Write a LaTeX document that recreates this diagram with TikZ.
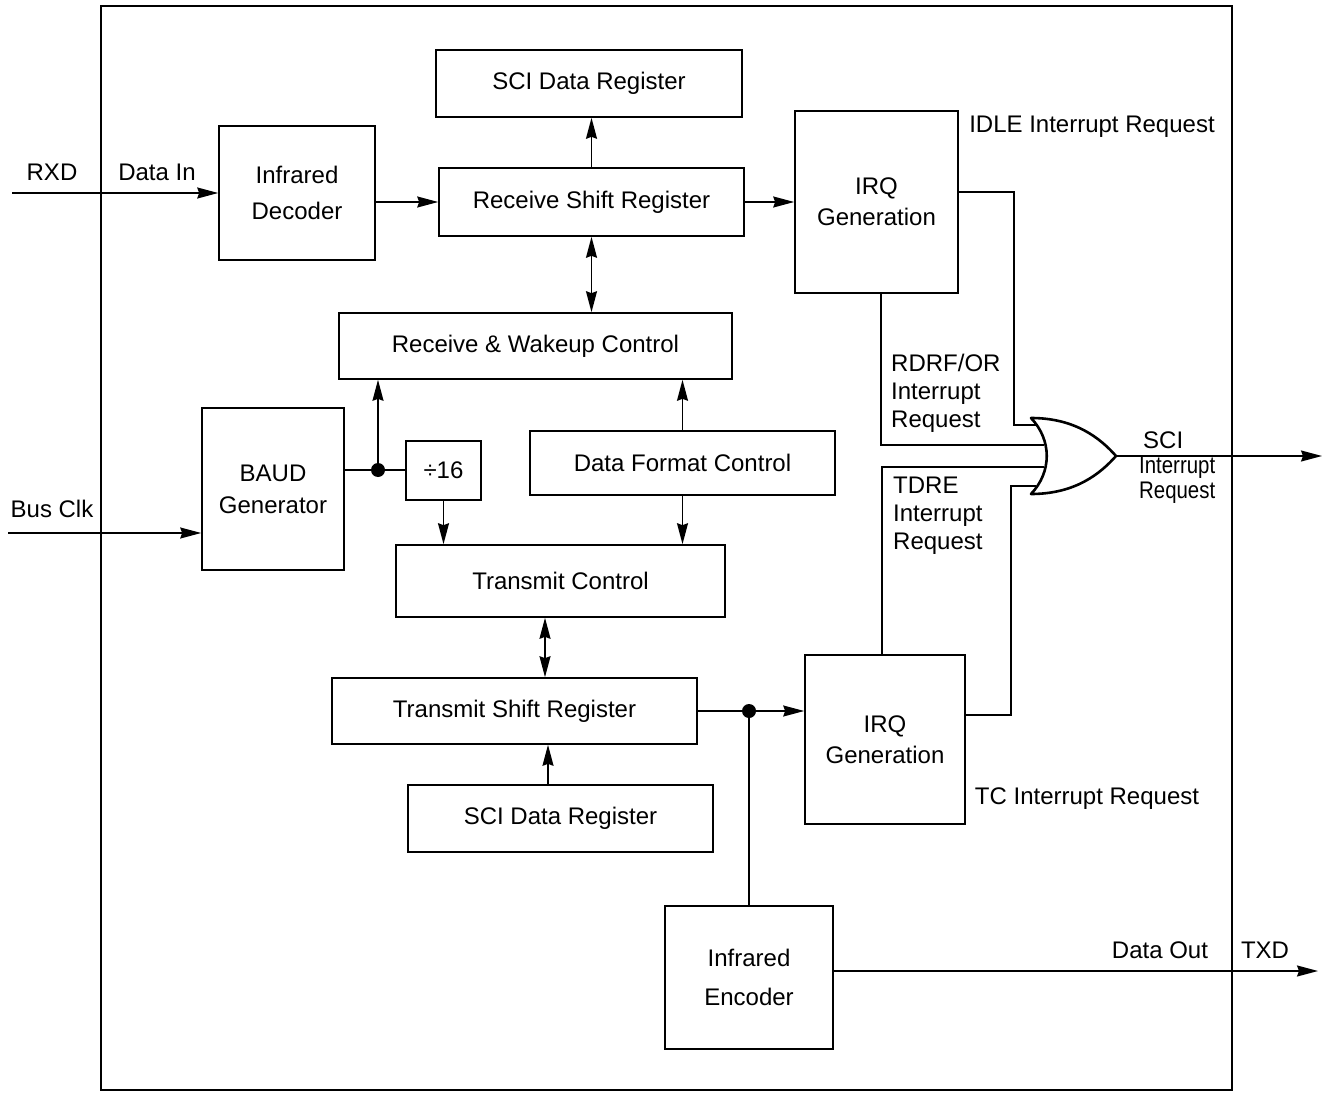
\documentclass[tikz,border=0pt]{standalone}
\usepackage{fontspec}
\setmainfont{Liberation Sans}
\usetikzlibrary{arrows.meta,calc}
\begin{document}
\begin{tikzpicture}[x=1pt,y=-1pt,
 blk/.style={draw,line width=1.6pt,inner sep=0pt,align=center,font=\fontsize{24}{32}\selectfont},
 lbl/.style={inner sep=0pt,font=\fontsize{24}{28}\selectfont,align=left},
 wire/.style={line width=1.6pt},
 arr/.style={wire,-{Stealth[length=21pt,width=11pt,inset=2pt]}},
 darr/.style={wire,{Stealth[length=21pt,width=11pt,inset=2pt]}-{Stealth[length=21pt,width=11pt,inset=2pt]}},
 jdot/.style={circle,fill,inner sep=0pt,minimum size=14pt}]
\useasboundingbox (0,0) rectangle (1326,1094);
\draw[line width=1.6pt] (101,6) rectangle (1232,1090);

% blocks
\node[blk,minimum width=306,minimum height=67] (sdrTop) at (589,83.5) {SCI Data Register};
\node[blk,minimum width=156,minimum height=134,font=\fontsize{24}{36}\selectfont] (ird) at (297,193) {Infrared\\Decoder};
\node[blk,minimum width=305,minimum height=68] (rsr) at (591.5,202) {Receive Shift Register};
\node[blk,minimum width=163,minimum height=182,font=\fontsize{24}{31}\selectfont] (irq1) at (876.5,202) {IRQ\\Generation};
\node[blk,minimum width=393,minimum height=66] (rwc) at (535.5,346) {Receive \& Wakeup Control};
\node[blk,minimum width=142,minimum height=162] (baud) at (273,489) {BAUD\\Generator};
\node[blk,minimum width=75,minimum height=59] (div) at (443.5,470.5) {÷16};
\node[blk,minimum width=305,minimum height=64] (dfc) at (682.5,463) {Data Format Control};
\node[blk,minimum width=329,minimum height=72] (tc) at (560.5,581) {Transmit Control};
\node[blk,minimum width=365,minimum height=66] (tsr) at (514.5,711) {Transmit Shift Register};
\node[blk,minimum width=305,minimum height=67] (sdrBot) at (560.5,818.5) {SCI Data Register};
\node[blk,minimum width=160,minimum height=169,font=\fontsize{24}{31}\selectfont] (irq2) at (885,739.5) {IRQ\\Generation};
\node[blk,minimum width=168,minimum height=143,font=\fontsize{24}{39}\selectfont] (enc) at (749,977.5) {Infrared\\Encoder};

% free ends
\coordinate (rxd) at (12,193);
\coordinate (busclk) at (8,533);
\coordinate (txd) at (1318,971);
\coordinate (sciout) at (1322,456);
\coordinate (j1) at (378,470);
\coordinate (j2) at (749,711);

% OR gate
\coordinate (or1) at (1036,425);
\coordinate (or2) at (1044,445);
\coordinate (or3) at (1044,467);
\coordinate (or4) at (1036,486);
\coordinate (orout) at (1116,456);
\draw[line width=2.6pt,line join=round] (1031,418) .. controls (1052,440) and (1052,472) .. (1031,494)
  .. controls (1075,494) and (1100,474) .. (orout)
  .. controls (1100,438) and (1075,418) .. cycle;

% connectors
\draw[arr] (rxd) -- (rxd -| ird.west);
\draw[arr] (rsr.west -| ird.east) -- (rsr.west);
\draw[arr] (rsr.north) -- (rsr.north |- sdrTop.south);
\draw[arr] (rsr.east) -- (rsr.east -| irq1.west);
\draw[darr] (rsr.south) -- (rsr.south |- rwc.north);
\draw[wire] (j1 -| baud.east) -- (j1) -- (j1 -| div.west);
\draw[arr] (j1) -- (j1 |- rwc.south);
\node[jdot] (dot1) at (j1) {};
\draw[arr] (div.south) -- (div.south |- tc.north);
\draw[arr] (dfc.north) -- (dfc.north |- rwc.south);
\draw[arr] (dfc.south) -- (dfc.south |- tc.north);
\draw[arr] (busclk) -- (busclk -| baud.west);
\draw[darr] ($(tc.south)+(-15.5,0)$) -- ($(tc.south |- tsr.north)+(-15.5,0)$);
\draw[arr] ($(sdrBot.north)+(-12.5,0)$) -- ($(sdrBot.north |- tsr.south)+(-12.5,0)$);
\draw[wire] (j2 -| tsr.east) -- (j2);
\draw[arr] (j2) -- (j2 -| irq2.west);
\draw[wire] (j2) -- (j2 |- enc.north);
\node[jdot] (dot2) at (j2) {};
\draw[arr] (txd -| enc.east) -- (txd);
\draw[arr] (orout) -- (sciout);
\draw[wire] ($(irq1.east)+(0,-10)$) -- ++(55,0) |- (or1);
\draw[wire] ($(irq1.south)+(4.5,0)$) |- (or2);
\draw[wire] ($(irq2.north)+(-3,0)$) |- (or3);
\draw[wire] ($(irq2.east)+(0,-24.5)$) -- ++(45,0) |- (or4);

% labels
\node[lbl] (lrxd) at (52,172) {RXD};
\node[lbl] (ldin) at (157,172) {Data In};
\node[lbl] (lbus) at (52,509) {Bus Clk};
\node[lbl] (ldout) at (1160,950) {Data Out};
\node[lbl] (ltxd) at (1265,950) {TXD};
\node[lbl] (lidle) at (1092,127) {IDLE Interrupt Request};
\node[lbl] (ltc) at (1087,799) {TC Interrupt Request};
\node[lbl,anchor=west] (lrdrf) at (891,393) {RDRF/OR\\Interrupt\\Request};
\node[lbl,anchor=west] (ltdre) at (893,516) {TDRE\\Interrupt\\Request};
\node[lbl,anchor=west,font=\fontsize{24}{25}\selectfont] (lsci) at (1139,468) {\hspace{4pt}SCI\\\scalebox{0.85}[1]{Interrupt}\\\scalebox{0.85}[1]{Request}};
\end{tikzpicture}
\end{document}
